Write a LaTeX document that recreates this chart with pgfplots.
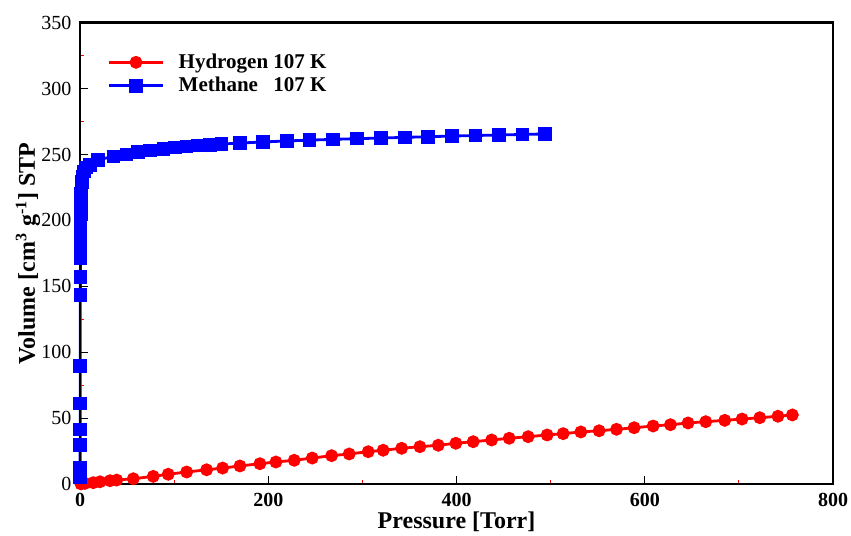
\documentclass[border=0pt]{standalone}
\usepackage{pgfplots}
\pgfplotsset{compat=1.18}
\usepackage{fontspec}
\setmainfont{Liberation Serif}
\newlength\hw
\begin{document}%
\settowidth\hw{\fontsize{10.5}{12.6}\selectfont\bfseries Hydrogen}%
\begin{tikzpicture}
\begin{axis}[
  scale only axis, width=376.5pt, height=230.65pt,
  xmin=0, xmax=800, ymin=0, ymax=350,
  xtick={0,200,...,800}, ytick={0,50,...,350},
  minor x tick num=1, minor y tick num=1,
  xtick pos=left, ytick pos=left,
  tick align=inside,
  major tick length=4pt, minor tick length=2.2pt,
  every major tick/.append style={black, line width=0.5pt},
  every minor tick/.append style={red, line width=0.5pt},
  axis line style={line width=1.4pt},
  axis on top, clip=false,
  /pgf/number format/assume math mode=true,
  xticklabel style={font=\fontsize{10}{12}\selectfont\bfseries, yshift=-1pt},
  yticklabel style={font=\fontsize{10}{12}\selectfont, xshift=-0.8pt},
  xlabel={Pressure [Torr]},
  ylabel={Volume [cm\textsuperscript{3} g\textsuperscript{-1}] STP},
  label style={font=\fontsize{12}{14}\selectfont\bfseries},
  xlabel style={at={(axis description cs:0.5,0)}, anchor=base, yshift=-22pt},
  ylabel style={at={([xshift=-22.5pt]axis description cs:0,0.5)}, anchor=base},
  legend style={draw=none, fill=none, at={(axis description cs:0.0357,0.9427)}, anchor=north west,
    font=\fontsize{10.5}{12.6}\selectfont\bfseries, row sep=-1pt, inner sep=0pt, cells={anchor=west}},
  legend image code/.code={\draw[mark repeat=2,mark phase=2] plot coordinates {(0cm,0cm)(0.48cm,0cm)(0.96cm,0cm)};},
]
\addplot[red, line width=1.4pt, mark=*, mark size=2.5pt, mark options={fill=red, draw=red, solid}] coordinates {
(1,0.1)(5.3,0.5)(14.1,1.0)(21.2,1.7)(31.9,2.5)(39,3.0)(56.6,4.0)(77.8,5.8)(93.7,7.4)(113.3,9.1)
(134.5,10.8)(151.5,12.1)(169.9,13.7)(191.1,15.4)(208.1,16.7)(227.6,18.0)(246.7,19.7)(267.3,21.5)
(286,22.8)(306.2,24.5)(322.1,25.6)(341.7,27.1)(361.1,28.3)(380.6,29.4)(399.3,30.9)(417.7,32.1)
(437.3,33.4)(456,34.7)(476.1,35.9)(496.3,37.2)(513.3,38.2)(532.1,39.5)(551.5,40.4)(570,41.5)
(588.7,42.7)(608.9,44.0)(627.3,45.0)(646,46.3)(664.8,47.3)(685,48.3)(703.4,49.3)(722.2,50.3)
(741.5,51.4)(756.8,52.4)
};
\addlegendentry{\hspace*{5pt}Hydrogen 107 K}
\addplot[blue, line width=1.4pt, mark=square*, mark size=2.7pt, mark options={fill=blue, draw=blue, solid}] coordinates {
(0.05,5)(0.1,12)(0.15,29.5)(0.2,41.5)(0.25,61)(0.3,89.5)(0.35,143.5)(0.4,157)(0.45,171)(0.5,177)
(0.55,183)(0.6,189)(0.65,195)(0.7,200)(0.8,205)(0.9,210)(1.0,215)(1.2,220)(1.5,225)(2,229)
(2.8,233)(4,237)(6.5,240)(10.6,242)(19.4,246)(35.4,248.5)(49.6,250)(61.9,251.8)(74.3,253)
(88.5,254.3)(100.9,255.2)(113.3,256)(125.6,256.7)(138,257.3)(150.4,257.9)(169.9,258.7)
(194.6,259.5)(220,260.3)(244,260.9)(269,261.5)(294,262)(320,262.5)(345,263)(370,263.5)
(395,264)(420,264.4)(445,264.8)(470,265.2)(494,265.6)
};
\addlegendentry{\hspace*{5pt}\makebox[\hw][l]{Methane} 107 K}
\coordinate (sw) at (rel axis cs:0,0);
\coordinate (ne) at (rel axis cs:1,1);
\end{axis}
\pgfresetboundingbox
\path[use as bounding box] ([shift={(-40pt,-25.5pt)}]sw) rectangle ([shift={(9pt,11.35pt)}]ne);
\end{tikzpicture}%
\end{document}
